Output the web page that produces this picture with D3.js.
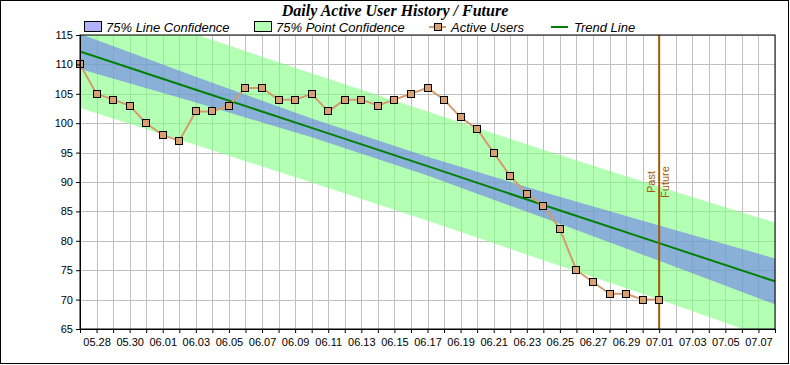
<!DOCTYPE html>
<html>
<head>
<meta charset="utf-8">
<script src="https://cdn.jsdelivr.net/npm/d3@7"></script>
<style>
  body { margin: 0; background: #fff; }
  svg { display: block; }
</style>
</head>
<body>
<div id="chart"></div>
<script>
// daily active users, one value per day
const dates = ['05.27', '05.28', '05.29', '05.30', '05.31', '06.01', '06.02', '06.03', '06.04',
  '06.05', '06.06', '06.07', '06.08', '06.09', '06.10', '06.11', '06.12', '06.13', '06.14',
  '06.15', '06.16', '06.17', '06.18', '06.19', '06.20', '06.21', '06.22', '06.23', '06.24',
  '06.25', '06.26', '06.27', '06.28', '06.29', '06.30', '07.01']
const activeUsers = [110, 105, 104, 103, 100, 98, 97, 102, 102, 103, 106, 106, 104, 104, 105,
  102, 104, 104, 103, 104, 105, 106, 104, 101, 99, 95, 91, 88, 86, 82, 75, 73, 71, 71, 70, 70]

// trend line + confidence bands, read at a few dates
const bandDates = ['05.27', '06.03', '06.10', '06.17', '06.24', '07.01', '07.08']
const trendValues = [112.2, 105.7, 99.2, 92.7, 86.1, 79.6, 73.1]
const lineConfLow = [109.2, 103.5, 97.6, 91.1, 83.9, 76.6, 69.2]
const lineConfHigh = [115.2, 107.9, 100.8, 94.3, 88.3, 82.6, 77.0]
const pointConfLow = [102.6, 96.3, 89.9, 83.4, 76.7, 70.0, 63.1]
const pointConfHigh = [121.8, 115.1, 108.5, 102.0, 95.5, 89.2, 83.1]

const yTicks = [65, 70, 75, 80, 85, 90, 95, 100, 105, 110, 115]
const xStart = '05.27'
const xEnd = '07.08'
const splitDate = '07.01'

const W = 790
const H = 365
const margin = { top: 35, left: 80, right: 15, bottom: 36 }
const width = W - margin.left - margin.right
const height = H - margin.top - margin.bottom

const parse = d3.timeParse('%m.%d')
const fmt = d3.timeFormat('%m.%d')

const root = d3.select('#chart').append('svg')
  .attr('width', W)
  .attr('height', H)

root.append('rect')
  .attr('x', 0.5).attr('y', 0.5)
  .attr('width', W - 2).attr('height', H - 2)
  .attr('fill', '#fff')
  .attr('stroke', '#000')

const svg = root.append('g')
  .attr('transform', 'translate(' + margin.left + ',' + margin.top + ')')

const xPositionScale = d3.scaleTime()
  .domain([parse(xStart), parse(xEnd)])
  .range([0, width])

const yPositionScale = d3.scaleLinear()
  .domain([65, 115])
  .range([height, 0])

const allDays = d3.timeDay.range(parse(xStart), d3.timeDay.offset(parse(xEnd), 1))

// grid
svg.append('g')
  .selectAll('line')
  .data(allDays)
  .enter().append('line')
  .attr('x1', d => Math.round(xPositionScale(d)) + 0.5)
  .attr('x2', d => Math.round(xPositionScale(d)) + 0.5)
  .attr('y1', 0)
  .attr('y2', height)
  .attr('stroke', '#c0c0c0')

svg.append('g')
  .selectAll('line')
  .data(yTicks)
  .enter().append('line')
  .attr('x1', 0)
  .attr('x2', width)
  .attr('y1', d => Math.round(yPositionScale(d)) + 0.5)
  .attr('y2', d => Math.round(yPositionScale(d)) + 0.5)
  .attr('stroke', '#c0c0c0')

svg.append('clipPath').attr('id', 'plot-clip')
  .append('rect').attr('width', width).attr('height', height)

const plot = svg.append('g').attr('clip-path', 'url(#plot-clip)')

const bandData = bandDates.map((d, i) => ({
  date: parse(d),
  trend: trendValues[i],
  lineLo: lineConfLow[i],
  lineHi: lineConfHigh[i],
  pointLo: pointConfLow[i],
  pointHi: pointConfHigh[i]
}))

const pointArea = d3.area()
  .x(d => xPositionScale(d.date))
  .y0(d => yPositionScale(d.pointLo))
  .y1(d => yPositionScale(d.pointHi))

const lineArea = d3.area()
  .x(d => xPositionScale(d.date))
  .y0(d => yPositionScale(d.lineLo))
  .y1(d => yPositionScale(d.lineHi))

plot.append('path')
  .datum(bandData)
  .attr('d', pointArea)
  .attr('fill', '#80ff80')
  .attr('opacity', 0.6)

plot.append('path')
  .datum(bandData)
  .attr('d', lineArea)
  .attr('fill', '#6462fd')
  .attr('opacity', 0.5)

const trendLine = d3.line()
  .x(d => xPositionScale(d.date))
  .y(d => yPositionScale(d.trend))

plot.append('path')
  .datum(bandData)
  .attr('d', trendLine)
  .attr('fill', 'none')
  .attr('stroke', '#008000')
  .attr('stroke-width', 2)

// past / future divider
const splitX = xPositionScale(parse(splitDate))
svg.append('line')
  .attr('x1', splitX).attr('x2', splitX)
  .attr('y1', 0).attr('y2', height)
  .attr('stroke', '#a05a00')
  .attr('stroke-width', 2)

svg.append('text')
  .text('Past')
  .attr('transform', 'translate(' + (splitX - 4) + ',' + (height / 2) + ') rotate(-90)')
  .attr('text-anchor', 'middle')
  .attr('font-family', 'Liberation Sans, Arial, sans-serif')
  .attr('font-size', '11px')
  .attr('fill', '#a05a00')

svg.append('text')
  .text('Future')
  .attr('transform', 'translate(' + (splitX + 10) + ',' + (height / 2) + ') rotate(-90)')
  .attr('text-anchor', 'middle')
  .attr('font-family', 'Liberation Sans, Arial, sans-serif')
  .attr('font-size', '11px')
  .attr('fill', '#a05a00')

// active users
const userData = dates.map((d, i) => ({ date: parse(d), value: activeUsers[i] }))

const userLine = d3.line()
  .x(d => xPositionScale(d.date))
  .y(d => yPositionScale(d.value))

svg.append('path')
  .datum(userData)
  .attr('d', userLine)
  .attr('fill', 'none')
  .attr('stroke', '#d29c6c')
  .attr('stroke-width', 2)

svg.selectAll('.user-point')
  .data(userData)
  .enter().append('rect')
  .attr('class', 'user-point')
  .attr('x', d => Math.round(xPositionScale(d.date)) - 3.5)
  .attr('y', d => Math.round(yPositionScale(d.value)) - 3.5)
  .attr('width', 7)
  .attr('height', 7)
  .attr('fill', '#d8a070')
  .attr('stroke', '#000')
  .attr('stroke-width', 1)

// axes
const yAxis = d3.axisLeft(yPositionScale).tickValues(yTicks).tickSize(4).tickSizeOuter(0)
svg.append('g')
  .attr('class', 'axis y-axis')
  .call(yAxis)

const xAxis = d3.axisBottom(xPositionScale)
  .tickValues(allDays)
  .tickSize(4)
  .tickSizeOuter(0)
  .tickFormat((d, i) => (i % 2 === 1 ? fmt(d) : ''))
svg.append('g')
  .attr('class', 'axis x-axis')
  .attr('transform', 'translate(0,' + height + ')')
  .call(xAxis)

svg.selectAll('.axis text')
  .attr('font-family', 'Liberation Sans, Arial, sans-serif')
  .attr('font-size', '11px')
  .attr('fill', '#000')
svg.selectAll('.axis path, .axis line').attr('stroke', '#000')
svg.select('.x-axis').selectAll('text').attr('dy', '0.95em')

svg.append('rect')
  .attr('width', width).attr('height', height)
  .attr('fill', 'none')
  .attr('stroke', '#000')

// title
root.append('text')
  .text('Daily Active User History / Future')
  .attr('x', 395)
  .attr('y', 16)
  .attr('text-anchor', 'middle')
  .attr('font-family', 'Liberation Serif, Times New Roman, serif')
  .attr('font-style', 'italic')
  .attr('font-weight', 'bold')
  .attr('font-size', '16px')

// legend
const legend = root.append('g')
const legendFont = sel => sel
  .attr('font-family', 'Liberation Sans, Arial, sans-serif')
  .attr('font-style', 'italic')
  .attr('font-size', '13px')
  .attr('y', 32)

legend.append('rect').attr('x', 84.5).attr('y', 21.5).attr('width', 17).attr('height', 10)
  .attr('fill', '#b2b1fe').attr('stroke', '#000')
legend.append('text').text('75% Line Confidence').attr('x', 106).call(legendFont)

legend.append('rect').attr('x', 254.5).attr('y', 21.5).attr('width', 17).attr('height', 10)
  .attr('fill', '#b3ffb3').attr('stroke', '#000')
legend.append('text').text('75% Point Confidence').attr('x', 276).call(legendFont)

legend.append('line').attr('x1', 429).attr('x2', 446).attr('y1', 27).attr('y2', 27)
  .attr('stroke', '#d29c6c').attr('stroke-width', 2)
legend.append('rect').attr('x', 434.5).attr('y', 23.5).attr('width', 7).attr('height', 7)
  .attr('fill', '#d8a070').attr('stroke', '#000')
legend.append('text').text('Active Users').attr('x', 451).call(legendFont)

legend.append('line').attr('x1', 551).attr('x2', 568).attr('y1', 27).attr('y2', 27)
  .attr('stroke', '#008000').attr('stroke-width', 2)
legend.append('text').text('Trend Line').attr('x', 574).call(legendFont)
</script>
</body>
</html>
